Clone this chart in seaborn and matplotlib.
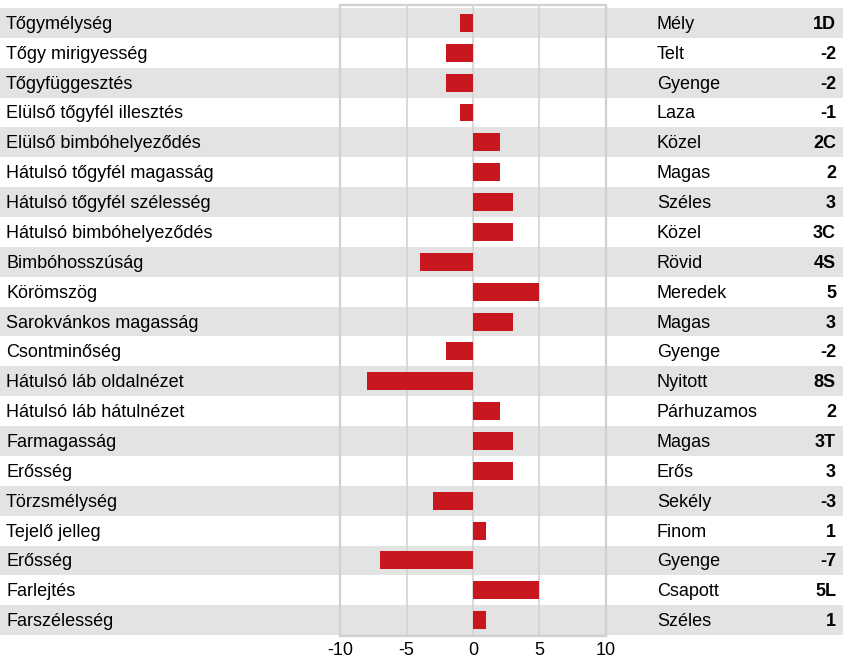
import pandas as pd
import matplotlib.pyplot as plt
import matplotlib.transforms as mtransforms
from matplotlib.patches import Rectangle
import seaborn as sns

# adatok
tulajdonsag = ['Tőgymélység', 'Tőgy mirigyesség', 'Tőgyfüggesztés', 'Elülső tőgyfél illesztés',
               'Elülső bimbóhelyeződés', 'Hátulsó tőgyfél magasság', 'Hátulsó tőgyfél szélesség',
               'Hátulsó bimbóhelyeződés', 'Bimbóhosszúság', 'Körömszög', 'Sarokvánkos magasság',
               'Csontminőség', 'Hátulsó láb oldalnézet', 'Hátulsó láb hátulnézet', 'Farmagasság',
               'Erősség', 'Törzsmélység', 'Tejelő jelleg', 'Erősség', 'Farlejtés', 'Farszélesség']
ertek = [-1, -2, -2, -1, 2, 2, 3, 3, -4, 5, 3, -2, -8, 2, 3, 3, -3, 1, -7, 5, 1]
leiras = ['Mély', 'Telt', 'Gyenge', 'Laza', 'Közel', 'Magas', 'Széles', 'Közel', 'Rövid',
          'Meredek', 'Magas', 'Gyenge', 'Nyitott', 'Párhuzamos', 'Magas', 'Erős', 'Sekély',
          'Finom', 'Gyenge', 'Csapott', 'Széles']
kod = ['1D', '-2', '-2', '-1', '2C', '2', '3', '3C', '4S', '5', '3', '-2', '8S', '2', '3T',
       '3', '-3', '1', '-7', '5L', '1']
xticks = [-10, -5, 0, 5, 10]

df = pd.DataFrame({'sor': list(range(len(ertek))), 'ertek': ertek})

sns.set_style('white')
plt.rcParams['font.family'] = ['Liberation Sans', 'DejaVu Sans']
plt.rcParams['text.color'] = 'black'
fs = 13

W, H = 843, 660
fig = plt.figure(figsize=(W / 100, H / 100), dpi=100)
ax = fig.add_axes([340 / W, (H - 636) / H, 266 / W, (636 - 5) / H])
ax.set_facecolor('none')

sns.barplot(data=df, x='ertek', y='sor', orient='y', order=list(range(len(ertek))),
            color='#c8171e', saturation=1, width=0.6, linewidth=0, ax=ax, zorder=3)

ax.set_xlim(-10, 10)
ax.set_ylim(20.53, -0.6)
ax.set_xticks(xticks)
ax.set_xticklabels([str(t) for t in xticks], fontsize=fs, color='black')
ax.set_yticks([])
ax.set_xlabel('')
ax.set_ylabel('')
ax.tick_params(axis='x', length=0, pad=4.5)

for v in [-5, 0, 5]:
    ax.axvline(v, color='#d3d3d3', lw=1.2, zorder=1)
for s in ax.spines.values():
    s.set_color('#d0d0d0')
    s.set_linewidth(1.6)

# sávok az egész szélességben
tr = mtransforms.blended_transform_factory(fig.transFigure, ax.transData)
dy = 0.2
for i in range(len(ertek)):
    if i % 2 == 0:
        ax.add_patch(Rectangle((0, i - 0.5), 1, 1, transform=tr, facecolor='#e3e3e3',
                               edgecolor='none', clip_on=False, zorder=0))
    ax.text(6 / W, i + dy, tulajdonsag[i], transform=tr, ha='left', va='baseline', fontsize=fs)
    ax.text(657 / W, i + dy, leiras[i], transform=tr, ha='left', va='baseline', fontsize=fs)
    ax.text(836 / W, i + dy, kod[i], transform=tr, ha='right', va='baseline', fontsize=fs,
            fontweight='bold')

fig.savefig('out.png', dpi=100)
